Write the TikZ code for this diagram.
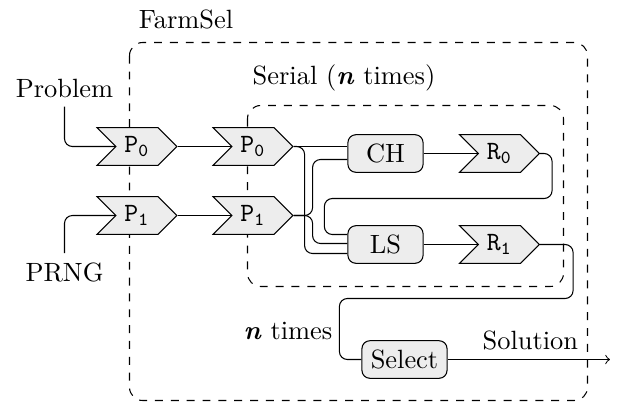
\documentclass[tikz,border=0pt]{standalone}
\usetikzlibrary{arrows,calc,shapes.symbols,backgrounds}
\definecolor{BoxClr}{gray}{0.93}

\tikzset{
  chan/.style={signal,signal from=west,signal to=east,draw,fill=BoxClr,
    minimum width=1.06cm,minimum height=0.5cm,inner sep=1pt},
  proc/.style={rectangle,rounded corners=3pt,draw,fill=BoxClr,
    minimum width=1cm,minimum height=0.5cm},
  wire/.style={rounded corners=3pt},
  frame/.style={dashed,rounded corners=5pt}
}

\begin{document}
\begin{tikzpicture}[x=0.0133cm,y=-0.0133cm]
\useasboundingbox (0,0) rectangle (620,405);

\draw[frame] (129.5,42.5) rectangle (587.5,400.5);
\draw[frame] (247.5,105.5) rectangle (563.5,286.5);
\node (farm) at (186,19) {FarmSel};
\node (serial) at (344,78) {Serial (\textbf{\textit{n}} times)};

\node (prob) at (64.5,88) {Problem};
\node (prng) at (64.5,272) {PRNG};
\node (ntimes) at (288,331) {\textbf{\textit{n}} times};

\node[chan] (Pa0) at (137,146.5) {$\mathtt{P_0}$};
\node[chan] (Pa1) at (137,215.5) {$\mathtt{P_1}$};
\node[chan] (Pb0) at (253,146.5) {$\mathtt{P_0}$};
\node[chan] (Pb1) at (253,215.5) {$\mathtt{P_1}$};
\node[proc] (CH) at (385.5,153.5) {CH};
\node[proc] (LS) at (385.5,244.5) {LS};
\node[chan] (R0) at (499.5,153.5) {$\mathtt{R_0}$};
\node[chan] (R1) at (499.5,244.5) {$\mathtt{R_1}$};
\node[proc,minimum width=1.1cm] (Sel) at (404.5,359.5) {Select};
\coordinate (out) at (610,359.5);

\begin{pgfonlayer}{background}
\draw[wire] (prob.south) |- (Pa0.center);
\draw[wire] (prng.north) |- (Pa1.center);
\draw (Pa0.east) -- (Pb0.center);
\draw (Pa1.east) -- (Pb1.center);
\draw (Pb0.east) -- (CH.west |- Pb0.east);
\draw[wire] (Pb0.east) -- ++(11,0) |- ($(LS.west)+(0,9)$);
\draw[wire] (Pb1.east) -- ++(19,0) |- ($(CH.west)+(0,6)$);
\draw[wire] (Pb1.east) -- ++(19,0) |- ($(LS.west)+(0,-1)$);
\draw (CH.east) -- (R0.center);
\draw (LS.east) -- (R1.center);
\draw[wire] (R0.east) -- ++(12,0) -- ++(0,45) -| ($(LS.west)+(-23,-10)$)
  -- ($(LS.west)+(0,-10)$);
\draw[wire] (R1.east) -- ++(33,0) -- ++(0,54) -| ($(Sel.west)+(-22,0)$)
  -- (Sel.west);
\end{pgfonlayer}
\draw[->] (Sel.east) -- node[above,pos=.51] {Solution} (out);

\end{tikzpicture}
\end{document}
